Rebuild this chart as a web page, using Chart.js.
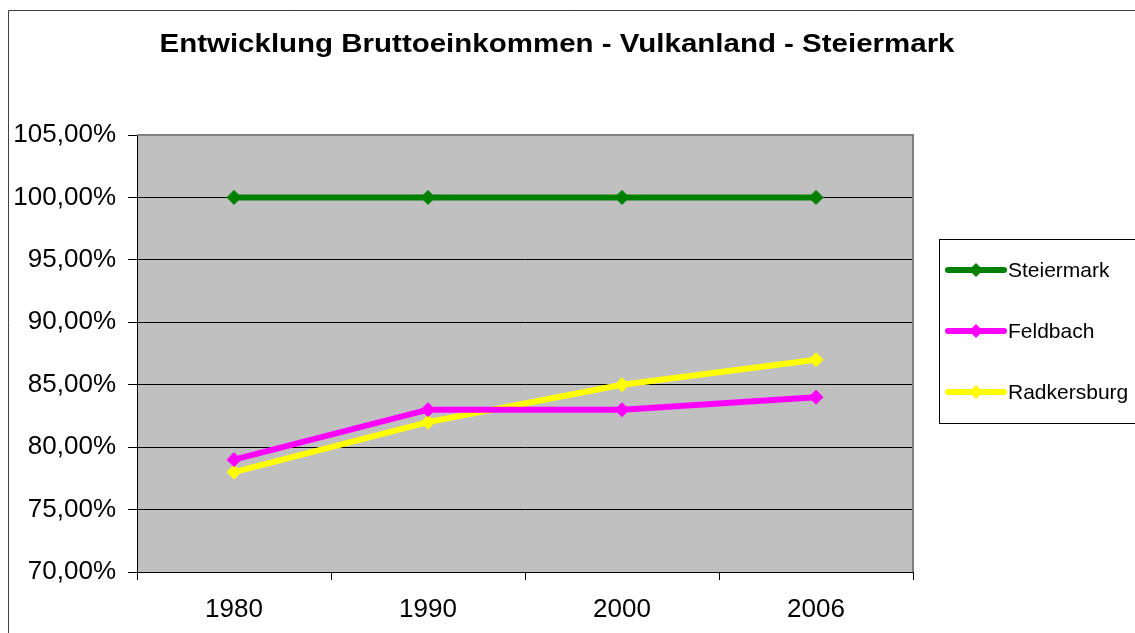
<!DOCTYPE html>
<html>
<head>
<meta charset="utf-8">
<script src="https://cdn.jsdelivr.net/npm/chart.js@4"></script>
<style>
  html, body { margin: 0; padding: 0; background: #ffffff; }
  #wrap { width: 1135px; height: 633px; position: relative; }
</style>
</head>
<body>
<div id="wrap"><canvas id="incomeChart" width="1135" height="633"></canvas></div>
<script>
const chartTitle = "Entwicklung Bruttoeinkommen - Vulkanland - Steiermark";
const years = ["1980", "1990", "2000", "2006"];
const seriesNames = ["Steiermark", "Feldbach", "Radkersburg"];
const steiermark = [100, 100, 100, 100];
const feldbach = [79, 83, 83, 84];
const radkersburg = [78, 82, 85, 87];
const seriesColors = ["#008000", "#ff00ff", "#ffff00"];

const FONT = "'Liberation Sans', Arial, sans-serif";

function makeDataset(label, values, color) {
  return {
    label,
    data: values,
    borderColor: color,
    backgroundColor: color,
    borderWidth: 6,
    pointStyle: "rectRot",
    pointRadius: 7,
    pointBorderWidth: 1,
    pointBackgroundColor: color,
    pointBorderColor: color,
    tension: 0,
    fill: false
  };
}

// gray plot area, frame, title and the boxed legend
const excelLook = {
  id: "excelLook",
  beforeDraw(chart) {
    const { ctx, chartArea: a } = chart;
    ctx.save();
    ctx.fillStyle = "#c0c0c0";
    ctx.fillRect(a.left, a.top, a.right - a.left, a.bottom - a.top);
    ctx.restore();
  },
  afterDraw(chart) {
    const { ctx, chartArea: a } = chart;
    ctx.save();

    // top / right edge of plot area
    ctx.strokeStyle = "#808080";
    ctx.lineWidth = 2;
    ctx.beginPath();
    ctx.moveTo(a.left, a.top);
    ctx.lineTo(a.right, a.top);
    ctx.lineTo(a.right, a.bottom);
    ctx.stroke();

    // outer chart frame
    ctx.strokeStyle = "#404040";
    ctx.lineWidth = 1;
    ctx.beginPath();
    ctx.moveTo(8.5, 640);
    ctx.lineTo(8.5, 10.5);
    ctx.lineTo(1140, 10.5);
    ctx.stroke();

    // title (the original is drawn a bit wider than Arial)
    ctx.fillStyle = "#000000";
    ctx.font = "bold 25px " + FONT;
    ctx.textAlign = "center";
    ctx.textBaseline = "alphabetic";
    const w = ctx.measureText(chartTitle).width;
    ctx.save();
    ctx.translate(557, 52);
    ctx.scale(795 / w, 1);
    ctx.fillText(chartTitle, 0, 0);
    ctx.restore();

    // legend
    ctx.strokeStyle = "#000000";
    ctx.lineWidth = 1;
    ctx.strokeRect(939.5, 239.5, 220, 184);
    ctx.font = "21px " + FONT;
    ctx.textAlign = "left";
    ctx.textBaseline = "middle";
    chart.data.datasets.forEach((ds, i) => {
      const y = 270 + i * 61;
      ctx.strokeStyle = ds.borderColor;
      ctx.lineWidth = 6;
      ctx.lineCap = "round";
      ctx.beginPath();
      ctx.moveTo(948, y);
      ctx.lineTo(1004, y);
      ctx.stroke();
      ctx.fillStyle = ds.borderColor;
      ctx.beginPath();
      ctx.moveTo(969, y);
      ctx.lineTo(976, y - 7);
      ctx.lineTo(983, y);
      ctx.lineTo(976, y + 7);
      ctx.closePath();
      ctx.fill();
      ctx.fillStyle = "#000000";
      ctx.fillText(ds.label, 1008, y + 1);
    });
    ctx.restore();
  }
};

new Chart(document.getElementById("incomeChart"), {
  type: "line",
  data: {
    labels: years,
    datasets: [
      makeDataset(seriesNames[0], steiermark, seriesColors[0]),
      makeDataset(seriesNames[1], feldbach, seriesColors[1]),
      makeDataset(seriesNames[2], radkersburg, seriesColors[2])
    ]
  },
  options: {
    responsive: false,
    animation: false,
    layout: {
      padding: { top: 135, right: 222, left: 0, bottom: 0 }
    },
    plugins: {
      legend: { display: false },
      title: { display: false },
      tooltip: { enabled: false }
    },
    scales: {
      x: {
        offset: true,
        afterFit(scale) { scale.height = 61; },
        grid: {
          offset: true,
          drawOnChartArea: false,
          drawTicks: true,
          tickLength: 8,
          color: "#000000",
          lineWidth: 1
        },
        border: { color: "#000000", width: 1 },
        ticks: {
          color: "#000000",
          font: { family: FONT, size: 26 },
          padding: 14,
          maxRotation: 0
        }
      },
      y: {
        min: 70,
        max: 105,
        afterFit(scale) { scale.width = 137; },
        grid: {
          color: "#000000",
          lineWidth: 1,
          tickLength: 9
        },
        border: { color: "#000000", width: 1 },
        ticks: {
          stepSize: 5,
          color: "#000000",
          font: { family: FONT, size: 26 },
          padding: 12,
          callback: v => v.toFixed(2).replace(".", ",") + "%"
        }
      }
    }
  },
  plugins: [excelLook]
});
</script>
</body>
</html>
